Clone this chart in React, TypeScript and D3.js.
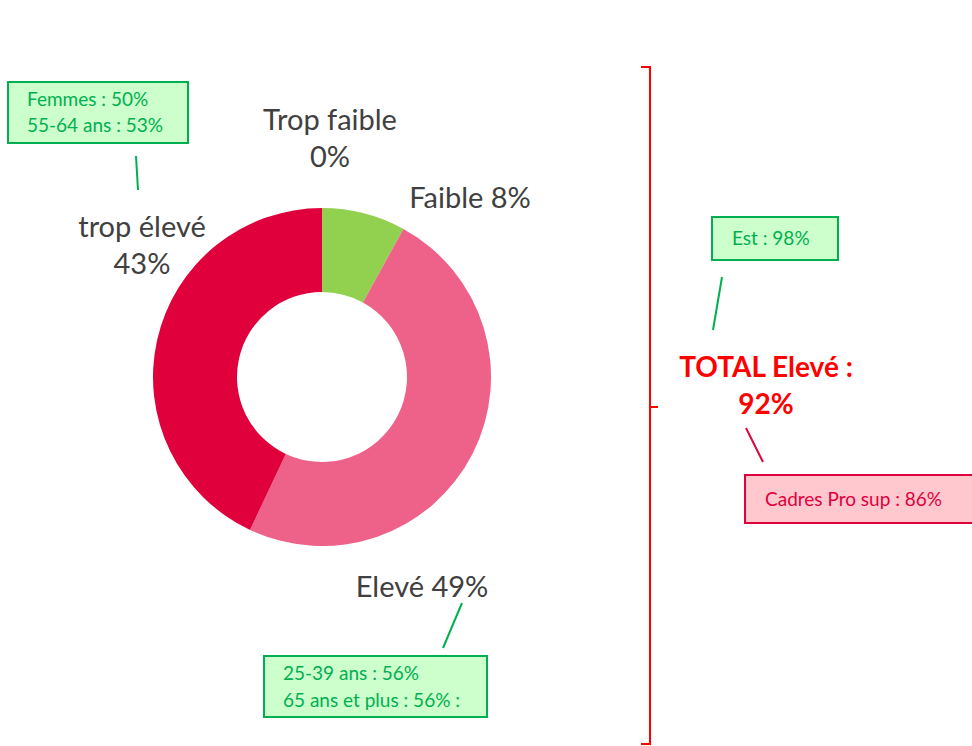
import { useEffect, useRef } from 'react';
import * as d3 from 'd3';

const categories = ['Trop faible', 'Faible', 'Elevé', 'trop élevé'];
const values = [0, 8, 49, 43];
const sliceColors = ['#92D050', '#92D050', '#EE6289', '#E0003C'];

const sliceLabels = [
  ['Trop faible', '0%'],
  ['Faible 8%'],
  ['Elevé 49%'],
  ['trop élevé', '43%'],
];

const noteTop = ['Femmes : 50%', '55-64 ans : 53%'];
const noteBottom = ['25-39 ans : 56%', '65 ans et plus : 56% :'];
const noteEst = ['Est : 98%'];
const noteCadres = ['Cadres Pro sup : 86%'];
const totalLines = ['TOTAL Elevé :', '92%'];

const FONT = 'Lato, "Open Sans", sans-serif';

const App = () => {
  const ref = useRef<SVGSVGElement | null>(null);

  useEffect(() => {
    const width = 972;
    const height = 746;
    const cx = 322;
    const cy = 377;
    const outer = 169;
    const inner = 85;

    const svg = d3.select(ref.current);
    svg.selectAll('*').remove();
    svg.attr('width', width).attr('height', height);

    const pie = d3.pie<number>().sort(null).value(d => d);
    const arc = d3.arc<d3.PieArcDatum<number>>().innerRadius(inner).outerRadius(outer);

    svg.append('g')
      .attr('transform', `translate(${cx},${cy})`)
      .selectAll('path')
      .data(pie(values))
      .join('path')
      .attr('fill', (d, i) => sliceColors[i])
      .attr('d', arc);

    // slice labels (placed like the office chart did)
    const labelPos = [
      { x: 330, y: 130 },
      { x: 470, y: 208 },
      { x: 422, y: 597 },
      { x: 142, y: 237 },
    ];
    categories.forEach((c, i) => {
      const t = svg.append('text')
        .attr('text-anchor', 'middle')
        .attr('font-family', FONT)
        .attr('font-size', 29)
        .attr('fill', '#404040');
      sliceLabels[i].forEach((s, j) => {
        t.append('tspan').attr('x', labelPos[i].x).attr('y', labelPos[i].y + j * 37).text(s);
      });
    });

    const box = (x, y, w, h, lines, fill, stroke, color, tx, ty, lh) => {
      svg.append('rect')
        .attr('x', x).attr('y', y).attr('width', w).attr('height', h)
        .attr('fill', fill).attr('stroke', stroke).attr('stroke-width', 2);
      lines.forEach((s, j) => {
        svg.append('text')
          .attr('x', tx).attr('y', ty + j * lh)
          .attr('font-family', FONT).attr('font-size', 19)
          .attr('fill', color).text(s);
      });
    };

    const link = (x1, y1, x2, y2, c) => svg.append('line')
      .attr('x1', x1).attr('y1', y1).attr('x2', x2).attr('y2', y2)
      .attr('stroke', c).attr('stroke-width', 2);

    box(8, 82, 180, 61, noteTop, '#CCFFCC', '#00B050', '#00B050', 27, 106, 26);
    link(136, 156, 138, 190, '#00B050');

    box(264, 656, 223, 61, noteBottom, '#CCFFCC', '#00B050', '#00B050', 283, 680, 27);
    link(443, 648, 462, 603, '#00B050');

    box(712, 217, 126, 43, noteEst, '#CCFFCC', '#00B050', '#00B050', 732, 245, 26);
    link(722, 277, 713, 330, '#00B050');

    box(745, 475, 240, 48, noteCadres, '#FFC7CE', '#E0003C', '#E0003C', 765, 506, 26);
    link(746, 428, 763, 462, '#E0003C');

    totalLines.forEach((s, j) => {
      svg.append('text')
        .attr('x', 766).attr('y', 377 + j * 37)
        .attr('text-anchor', 'middle')
        .attr('font-family', FONT).attr('font-size', 28).attr('font-weight', 'bold')
        .attr('fill', '#FF0000').text(s);
    });

    // bracket
    svg.append('path')
      .attr('d', 'M641,67 H650 V744 H641 M650,407 H658')
      .attr('fill', 'none')
      .attr('stroke', '#FF0000')
      .attr('stroke-width', 2);
  }, []);

  return <svg ref={ref} style={{ display: 'block', position: 'absolute', left: 0, top: 0 }} />;
};

export default App;
